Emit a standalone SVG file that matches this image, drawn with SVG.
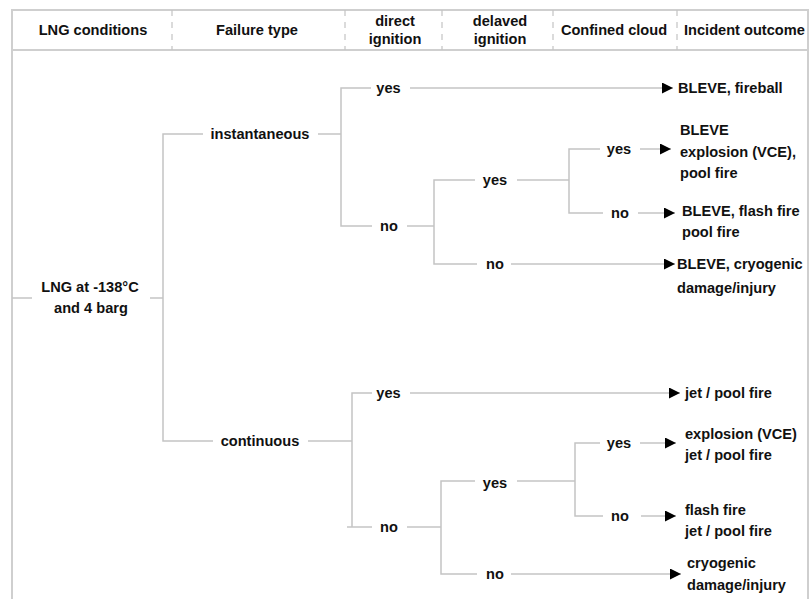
<svg xmlns="http://www.w3.org/2000/svg" width="811" height="599" viewBox="0 0 811 599">
<defs>
<style>
text{font-family:"Liberation Sans",Arial,sans-serif;font-weight:bold;font-size:14.6px;fill:#111;}
.m{text-anchor:middle;}
.ln{stroke:#c4c4c4;stroke-width:1.5;fill:none;}
.frame{stroke:#cfcfcf;stroke-width:2;fill:none;}
.dash{stroke:#c4c4c4;stroke-width:1.2;stroke-dasharray:6,6;fill:none;}
.ar{stroke:#c4c4c4;stroke-width:1.5;fill:none;marker-end:url(#ah);}
</style>
<marker id="ah" markerUnits="userSpaceOnUse" markerWidth="12" markerHeight="11" refX="11" refY="5.5" orient="auto">
<path d="M0,0 L11,5.5 L0,11 z" fill="#000"/>
</marker>
</defs>
<rect width="811" height="599" fill="#fff"/>
<g id="frame">
<path class="frame" d="M12,599 V10 H808 V599"/>
<line class="frame" x1="12" y1="50" x2="808" y2="50"/>
<line class="dash" x1="172" y1="10" x2="172" y2="50"/>
<line class="dash" x1="345" y1="10" x2="345" y2="50"/>
<line class="dash" x1="442" y1="10" x2="442" y2="50"/>
<line class="dash" x1="553" y1="10" x2="553" y2="50"/>
<line class="dash" x1="677" y1="10" x2="677" y2="50"/>
</g>
<g id="header">
<text class="m" x="93" y="35">LNG conditions</text>
<text class="m" x="257" y="35">Failure type</text>
<text class="m" x="395" y="26">direct</text>
<text class="m" x="395" y="44">ignition</text>
<text class="m" x="500" y="26">delaved</text>
<text class="m" x="500" y="44">ignition</text>
<text class="m" x="614" y="35">Confined cloud</text>
<text x="684" y="35">Incident outcome</text>
</g>
<g id="connectors">
<line class="ln" x1="12" y1="298" x2="32" y2="298"/>
<line class="ln" x1="150" y1="298" x2="163" y2="298"/>
<path class="ln" d="M203,134 H163 V441 H213"/>
<line class="ln" x1="318" y1="134" x2="341" y2="134"/>
<path class="ln" d="M371,88 H341 V226 H372"/>
<line class="ar" x1="410" y1="88" x2="673" y2="88"/>
<line class="ln" x1="407" y1="226" x2="434" y2="226"/>
<path class="ln" d="M475,180 H434 V264 H477"/>
<line class="ln" x1="517" y1="180" x2="569" y2="180"/>
<path class="ln" d="M600,149 H569 V213 H603"/>
<line class="ar" x1="640" y1="149" x2="671" y2="149"/>
<line class="ar" x1="638" y1="213" x2="675" y2="213"/>
<line class="ar" x1="511" y1="264" x2="675" y2="264"/>
<line class="ln" x1="308" y1="441" x2="352" y2="441"/>
<path class="ln" d="M372,393 H352 V527"/>
<line class="ln" x1="347" y1="527" x2="372" y2="527"/>
<line class="ar" x1="410" y1="393" x2="680" y2="393"/>
<line class="ln" x1="407" y1="527" x2="441" y2="527"/>
<path class="ln" d="M475,481 H441 V574 H477"/>
<line class="ln" x1="517" y1="481" x2="575" y2="481"/>
<path class="ln" d="M600,443 H575 V516 H603"/>
<line class="ar" x1="640" y1="443" x2="676" y2="443"/>
<line class="ar" x1="641" y1="516" x2="676" y2="516"/>
<line class="ar" x1="511" y1="574" x2="681" y2="574"/>
</g>
<g id="n-root">
<text class="m" x="90" y="292">LNG at -138°C</text>
<text class="m" x="91" y="313">and 4 barg</text>
</g>
<g id="n-instant"><text class="m" x="260" y="139">instantaneous</text></g>
<g id="n-continuous"><text class="m" x="260" y="446">continuous</text></g>
<g id="n-i-yes"><text class="m" x="388.5" y="93">yes</text></g>
<g id="n-i-no"><text class="m" x="389" y="231">no</text></g>
<g id="n-i-no-yes"><text class="m" x="495" y="185">yes</text></g>
<g id="n-i-no-no"><text class="m" x="495" y="269">no</text></g>
<g id="n-i-no-yes-yes"><text class="m" x="619" y="154">yes</text></g>
<g id="n-i-no-yes-no"><text class="m" x="620" y="218">no</text></g>
<g id="n-c-yes"><text class="m" x="388.5" y="398">yes</text></g>
<g id="n-c-no"><text class="m" x="389" y="532">no</text></g>
<g id="n-c-no-yes"><text class="m" x="495" y="488">yes</text></g>
<g id="n-c-no-no"><text class="m" x="495" y="579">no</text></g>
<g id="n-c-no-yes-yes"><text class="m" x="619" y="448">yes</text></g>
<g id="n-c-no-yes-no"><text class="m" x="620" y="521">no</text></g>
<g id="o1"><text x="678" y="93">BLEVE, fireball</text></g>
<g id="o2">
<text x="680" y="135">BLEVE</text>
<text x="680" y="157">explosion (VCE),</text>
<text x="680" y="178">pool fire</text>
</g>
<g id="o3">
<text x="682" y="216">BLEVE, flash fire</text>
<text x="682" y="237">pool fire</text>
</g>
<g id="o4">
<text x="677" y="269">BLEVE, cryogenic</text>
<text x="677" y="293">damage/injury</text>
</g>
<g id="o5"><text x="685" y="398">jet / pool fire</text></g>
<g id="o6">
<text x="685" y="439">explosion (VCE)</text>
<text x="685" y="460">jet / pool fire</text>
</g>
<g id="o7">
<text x="685" y="515">flash fire</text>
<text x="685" y="536">jet / pool fire</text>
</g>
<g id="o8">
<text x="687" y="568">cryogenic</text>
<text x="687" y="590">damage/injury</text>
</g>
</svg>
